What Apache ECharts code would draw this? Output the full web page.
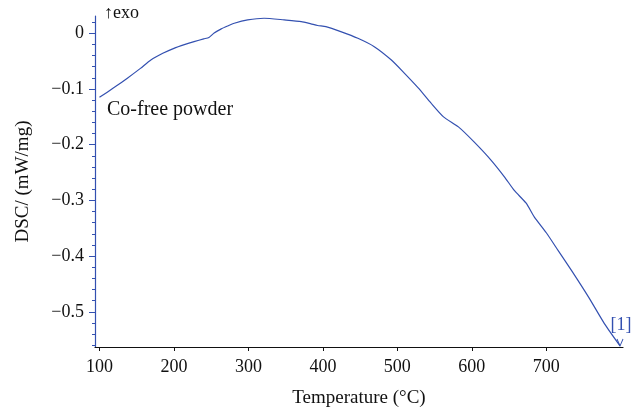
<!DOCTYPE html>
<html>
<head>
<meta charset="utf-8">
<script src="https://cdn.jsdelivr.net/npm/echarts@6/dist/echarts.min.js"></script>
<style>
  html, body { margin: 0; padding: 0; background: #fff; }
  #chart { width: 642px; height: 417px; }
</style>
</head>
<body>
<div id="chart"></div>
<script>
// DSC trace of the Co-free powder
var temperatures = [100, 120, 137, 155, 169, 185, 200, 215, 227, 240, 247, 254, 263, 272, 281, 299, 321, 348, 371, 384, 393, 404, 424, 447, 469, 492, 509, 528, 545, 562, 582, 603, 626, 644, 657, 673, 684, 700, 716, 734, 757, 778, 799];
var dscValues = [-0.115, -0.097, -0.081, -0.063, -0.048, -0.036, -0.027, -0.020, -0.015, -0.010, -0.0075, 0.0004, 0.0075, 0.013, 0.018, 0.024, 0.027, 0.024, 0.021, 0.017, 0.014, 0.012, 0.003, -0.009, -0.024, -0.048, -0.071, -0.098, -0.125, -0.150, -0.168, -0.195, -0.228, -0.258, -0.282, -0.305, -0.330, -0.358, -0.390, -0.426, -0.474, -0.521, -0.561];

var xTicks = [100, 200, 300, 400, 500, 600, 700];
var yTicks = [-0.5, -0.4, -0.3, -0.2, -0.1, 0];

var serif = '"Liberation Serif", "DejaVu Serif", serif';
var blue = '#3350b0';

var points = temperatures.map(function (t, i) { return [t, dscValues[i]]; });
var lastPoint = points[points.length - 1];

var chart = echarts.init(document.getElementById('chart'), null, { renderer: 'canvas' });
chart.setOption({
  animation: false,
  backgroundColor: '#fff',
  grid: { left: 95, right: 19, top: 16, bottom: 70 },
  xAxis: {
    type: 'value',
    min: 94,
    max: 803,
    name: 'Temperature (°C)',
    nameLocation: 'middle',
    nameGap: 42,
    nameTextStyle: { fontFamily: serif, fontSize: 19, color: '#111' },
    axisLine: { show: true, onZero: false, lineStyle: { color: '#111', width: 1.2 } },
    axisTick: { show: true, length: 4, lineStyle: { color: '#111' }, customValues: xTicks },
    axisLabel: { fontFamily: serif, fontSize: 18, color: '#111', margin: 11, customValues: xTicks },
    splitLine: { show: false }
  },
  yAxis: {
    type: 'value',
    min: -0.563,
    max: 0.031,
    name: 'DSC/ (mW/mg)',
    nameLocation: 'middle',
    nameGap: 62,
    nameTextStyle: { fontFamily: serif, fontSize: 19, color: '#111' },
    axisLine: { show: true, onZero: false, lineStyle: { color: blue, width: 1.2 } },
    axisTick: { show: true, length: 6, lineStyle: { color: blue }, customValues: yTicks },
    minorTick: { show: true, splitNumber: 5, length: 3, lineStyle: { color: blue } },
    minorSplitLine: { show: false },
    axisLabel: {
      fontFamily: serif, fontSize: 18, color: '#111', margin: 11,
      customValues: yTicks,
      formatter: function (v) { return String(v).replace('-', '\u2212'); }
    },
    splitLine: { show: false }
  },
  graphic: [
    { type: 'text', left: 104, top: 4, style: { text: '\u2191exo', font: '18px ' + serif, fill: '#111' } },
    { type: 'text', left: 107, top: 100, style: { text: 'Co-free powder', font: '20px ' + serif, fill: '#111' } }
  ],
  series: [{
    type: 'line',
    data: points,
    showSymbol: false,
    smooth: 0.2,
    lineStyle: { color: blue, width: 1.2 },
    markPoint: {
      data: [
        {
          // reference tag above the end of the trace
          coord: lastPoint,
          symbol: 'circle',
          symbolSize: 0,
          label: {
            show: true,
            formatter: '[1]',
            offset: [1, -21],
            fontFamily: serif,
            fontSize: 18,
            color: blue
          }
        },
        {
          // small arrowhead marking the end of the trace
          coord: lastPoint,
          symbol: 'path://M0,0 L5,8 L10,0',
          symbolSize: [6, 7],
          symbolOffset: [0, -3.5],
          itemStyle: { color: 'none', borderColor: blue, borderWidth: 1 },
          label: { show: false }
        }
      ]
    }
  }]
});
</script>
</body>
</html>
